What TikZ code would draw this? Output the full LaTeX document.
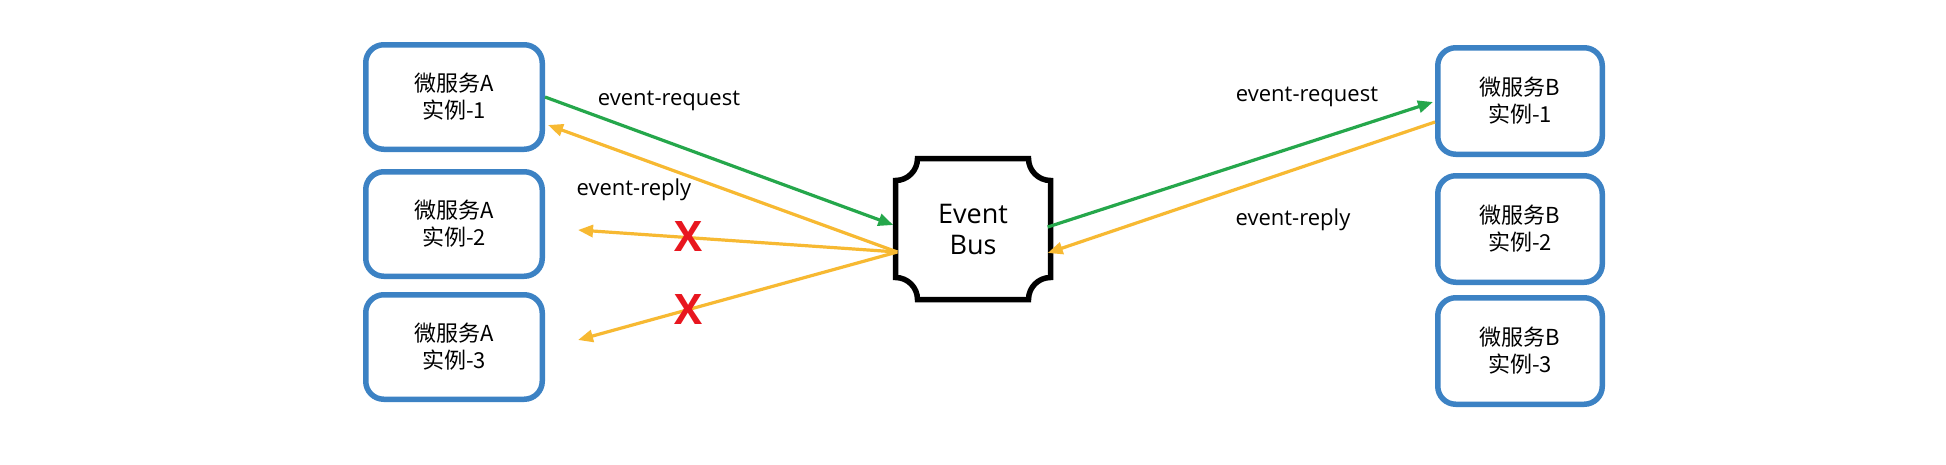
\documentclass[tikz,border=0pt]{standalone}
\usepackage{fontspec}
\setmainfont{Noto Sans CJK SC}
\newfontfamily\latinfont{Open Sans}
\usetikzlibrary{arrows.meta,calc}
\definecolor{boxblue}{HTML}{3C82C4}
\definecolor{reqgreen}{HTML}{25A74B}
\definecolor{repyellow}{HTML}{F7B932}
\definecolor{crossred}{HTML}{E8161F}
\begin{document}
\begin{tikzpicture}[x=1pt,y=-1pt,
 box/.style={draw=boxblue, line width=5.5pt, rounded corners=18pt, align=center, font=\fontsize{22}{27}\selectfont, inner sep=0pt},
 abox/.style={box, minimum width=176.5pt, minimum height=104.5pt},
 bbox/.style={box, minimum width=164.5pt, minimum height=106.5pt},
 tip/.style={-{Triangle[length=15pt,width=12pt]}},
 req/.style={draw=reqgreen, line width=3.2pt, tip},
 rep/.style={draw=repyellow, line width=3.2pt, tip},
 lbl/.style={font=\latinfont\fontsize{22}{26}\selectfont, inner sep=0pt},
 cross/.style={text=crossred, font=\latinfont\bfseries\fontsize{42}{42}\selectfont, inner sep=0pt}]
\fill[white] (0,0) rectangle (1946,464);
\useasboundingbox (0,0) rectangle (1946,464);

\node[abox] (a1) at (454,97) {微服务A\\实例-1};
\node[abox] (a2) at (454,224) {微服务A\\实例-2};
\node[abox] (a3) at (454,347) {微服务A\\实例-3};
\node[bbox] (b1) at (1520,101) {微服务B\\实例-1};
\node[bbox] (b2) at (1520,229) {微服务B\\实例-2};
\node[bbox] (b3) at (1520,351) {微服务B\\实例-3};

\node[minimum width=155pt, minimum height=141pt, inner sep=0pt, align=center, font=\latinfont\fontsize{27}{31}\selectfont] (bus) at (973,229) {Event\\Bus};
\draw[line width=5.5pt] (917.5,158.5) -- (1028.5,158.5)
  .. controls (1028.5,170.65) and (1038.35,180.5) .. (1050.5,180.5) -- (1050.5,277.5)
  .. controls (1038.35,277.5) and (1028.5,287.35) .. (1028.5,299.5) -- (917.5,299.5)
  .. controls (917.5,287.35) and (907.65,277.5) .. (895.5,277.5) -- (895.5,180.5)
  .. controls (907.65,180.5) and (917.5,170.65) .. (917.5,158.5) -- cycle;

\draw[req] (a1.east) -- ($(bus.west)+(-2,-4)$);
\draw[rep] ($(bus.west)+(2,23)$) -- ($(a1.east)+(3,28)$);
\draw[rep] ($(bus.west)+(2,23)$) -- ($(a2.east)+(33,6)$);
\draw[rep] ($(bus.west)+(2,23)$) -- ($(a3.east)+(33,-7)$);
\draw[req] ($(bus.east)+(-3,-2)$) -- ($(b1.west)+(-2,1)$);
\draw[rep] ($(b1.west)+(0,21)$) -- ($(bus.east)+(-3,24)$);

\node[lbl] (lreqa) at (669,101) {event-request};
\node[lbl] (lrepa) at (634,190) {event-reply};
\node[lbl] (lreqb) at (1307,97) {event-request};
\node[lbl] (lrepb) at (1293,220) {event-reply};

\node[cross] (x1) at (688,237) {X};
\node[cross] (x2) at (688,310) {X};
\end{tikzpicture}
\end{document}
